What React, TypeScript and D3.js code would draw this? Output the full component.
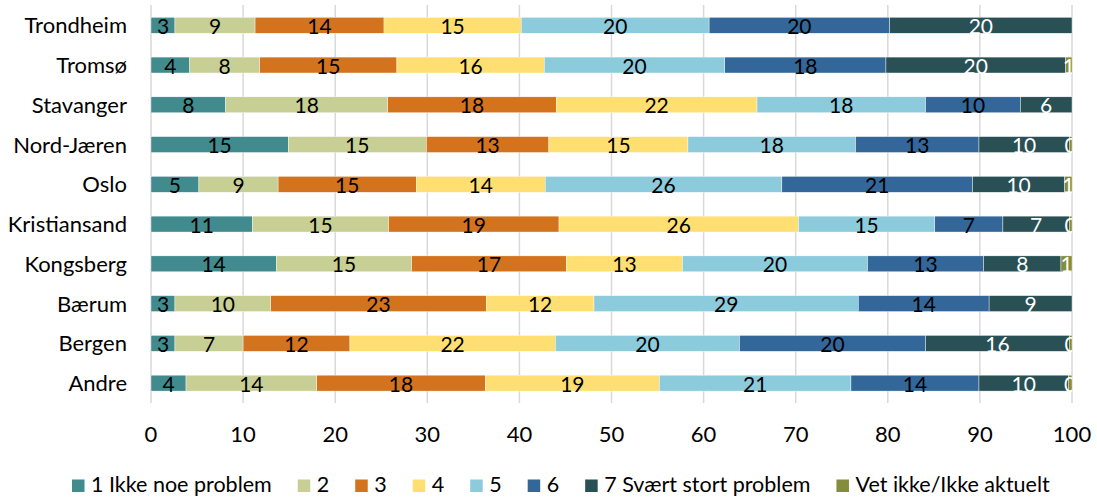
import * as d3 from 'd3';
import React, { useEffect, useRef } from 'react';

const cities = ['Trondheim', 'Tromsø', 'Stavanger', 'Nord-Jæren', 'Oslo', 'Kristiansand', 'Kongsberg', 'Bærum', 'Bergen', 'Andre'];
const seriesNames = ['1 Ikke noe problem', '2', '3', '4', '5', '6', '7 Svært stort problem', 'Vet ikke/Ikke aktuelt'];

// percent per city, one array per answer category
const s1 = [2.6, 4.2, 8.1, 14.9, 5.2, 11.0, 13.6, 2.6, 2.6, 3.8];
const s2 = [8.7, 7.6, 17.6, 15.0, 8.6, 14.8, 14.7, 10.4, 7.4, 14.2];
const s3 = [14.0, 14.9, 18.3, 13.3, 15.0, 18.5, 16.8, 23.4, 11.6, 18.3];
const s4 = [14.9, 16.0, 21.8, 15.1, 14.0, 26.0, 12.6, 11.7, 22.3, 18.9];
const s5 = [20.4, 19.6, 18.3, 18.2, 25.7, 14.8, 20.1, 28.7, 20.0, 20.8];
const s6 = [19.6, 17.5, 10.3, 13.4, 20.7, 7.4, 12.6, 14.2, 20.2, 13.9];
const s7 = [19.8, 19.5, 5.6, 9.8, 10.0, 7.2, 8.4, 9.0, 15.6, 9.7];
const sVet = [null, 0.7, null, 0.3, 0.8, 0.3, 1.2, null, 0.3, 0.4];

const xTicks = [0, 10, 20, 30, 40, 50, 60, 70, 80, 90, 100];

const colors = ['#418a8e', '#c7cf94', '#d4731e', '#ffdf71', '#8ccbdc', '#33679a', '#285055', '#858c3b'];
const labelColors = ['#000', '#000', '#000', '#000', '#000', '#000', '#fff', '#fff'];

const W = 1097;
const H = 497;
const FONT = 'Lato, "DejaVu Sans", sans-serif';

const App: React.FC = () => {
  const ref = useRef<SVGSVGElement | null>(null);

  useEffect(() => {
    const svg = d3.select(ref.current);
    svg.selectAll('*').remove();

    const all = [s1, s2, s3, s4, s5, s6, s7, sVet];
    const rows = cities.map((c, i) => {
      const r: any = { city: c };
      seriesNames.forEach((k, j) => { r[k] = all[j][i]; });
      return r;
    });

    const stack = d3.stack<any>()
      .keys(seriesNames)
      .value((d, k) => (d[k] == null ? 0 : d[k]));
    const layers = stack(rows);

    const x = d3.scaleLinear().domain([0, 100]).range([151, 1072]);
    const y = d3.scaleBand<string>()
      .domain(cities)
      .range([5.4, 403])
      .paddingInner(0.6)
      .paddingOuter(0.3);

    svg.append('defs').append('clipPath').attr('id', 'plotclip')
      .append('rect').attr('x', 151).attr('y', 0).attr('width', 1072 - 151).attr('height', 410);

    // grid
    svg.append('g').selectAll('line').data(xTicks).join('line')
      .attr('x1', d => x(d)).attr('x2', d => x(d))
      .attr('y1', 5).attr('y2', 403)
      .attr('stroke', '#d9d9d9').attr('stroke-width', 1.5);

    // bars
    const gBars = svg.append('g');
    layers.forEach((layer, j) => {
      gBars.append('g').selectAll('rect')
        .data(layer.filter(d => d.data[seriesNames[j]] != null))
        .join('rect')
        .attr('x', d => x(d[0]))
        .attr('width', d => Math.max(0, x(d[1]) - x(d[0])))
        .attr('y', d => y(d.data.city)!)
        .attr('height', y.bandwidth())
        .attr('fill', colors[j])
        .attr('stroke', '#fff')
        .attr('stroke-width', 0.4);
    });

    // data labels
    const gLabels = svg.append('g').attr('clip-path', 'url(#plotclip)');
    layers.forEach((layer, j) => {
      gLabels.append('g').selectAll('text')
        .data(layer.filter(d => d.data[seriesNames[j]] != null))
        .join('text')
        .attr('x', d => x((d[0] + d[1]) / 2))
        .attr('y', d => y(d.data.city)! + y.bandwidth() / 2 + 8.5)
        .attr('text-anchor', 'middle')
        .attr('font-family', FONT)
        .attr('font-size', 21)
        .attr('fill', labelColors[j])
        .text(d => String(Math.round(d.data[seriesNames[j]])));
    });

    // category labels
    svg.append('g').selectAll('text').data(cities).join('text')
      .attr('x', 127)
      .attr('y', d => y(d)! + y.bandwidth() / 2 + 8)
      .attr('text-anchor', 'end')
      .attr('font-family', FONT)
      .attr('font-size', 22)
      .attr('fill', '#000')
      .text(d => d);

    // x tick labels
    svg.append('g').selectAll('text').data(xTicks).join('text')
      .attr('x', d => x(d))
      .attr('y', 442)
      .attr('text-anchor', 'middle')
      .attr('font-family', FONT)
      .attr('font-size', 22)
      .attr('fill', '#000')
      .text(d => String(d));

    // legend
    const gLeg = svg.append('g');
    let cx = 72;
    seriesNames.forEach((name, j) => {
      gLeg.append('rect')
        .attr('x', cx).attr('y', 479.5)
        .attr('width', 12.5).attr('height', 12.5)
        .attr('fill', colors[j]);
      const t = gLeg.append('text')
        .attr('x', cx + 19)
        .attr('y', 492)
        .attr('font-family', FONT)
        .attr('font-size', 21.5)
        .attr('fill', '#000')
        .text(name);
      const w = (t.node() as SVGTextElement).getComputedTextLength();
      cx = cx + 19 + w + 26;
    });
  }, []);

  return (
    <svg
      ref={ref}
      width={W}
      height={H}
      style={{ position: 'absolute', left: 0, top: 0, background: '#fff' }}
    />
  );
};

export default App;
